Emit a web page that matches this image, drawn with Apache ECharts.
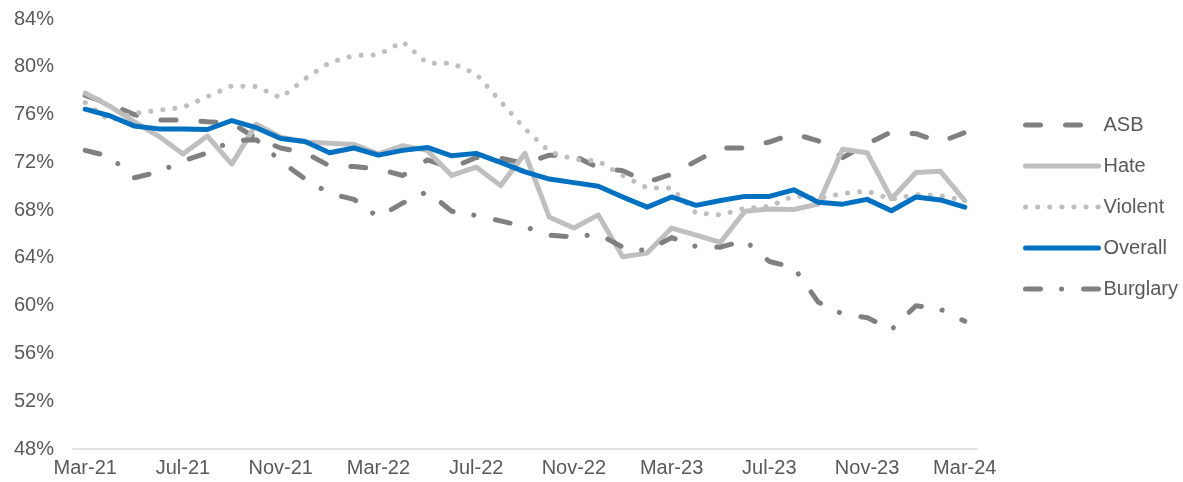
<!DOCTYPE html>
<html>
<head>
<meta charset="utf-8">
<script src="https://cdn.jsdelivr.net/npm/echarts@6/dist/echarts.min.js"></script>
<style>
  html, body { margin: 0; padding: 0; background: #fff; }
  #chart { width: 1183px; height: 482px; }
</style>
</head>
<body>
<div id="chart"></div>
<script>
const months = [
  "Mar-21", "Apr-21", "May-21", "Jun-21", "Jul-21", "Aug-21", "Sep-21", "Oct-21",
  "Nov-21", "Dec-21", "Jan-22", "Feb-22", "Mar-22", "Apr-22", "May-22", "Jun-22",
  "Jul-22", "Aug-22", "Sep-22", "Oct-22", "Nov-22", "Dec-22", "Jan-23", "Feb-23",
  "Mar-23", "Apr-23", "May-23", "Jun-23", "Jul-23", "Aug-23", "Sep-23", "Oct-23",
  "Nov-23", "Dec-23", "Jan-24", "Feb-24", "Mar-24",
];

const asb = [
  77.6, 76.9, 76.0, 75.55, 75.55, 75.4, 75.3, 74.0, 73.2, 72.8, 71.7, 71.65,
  71.45, 70.9, 72.2, 71.55, 72.4, 72.35, 71.9, 72.6, 72.55, 71.55, 71.3, 70.35,
  71.0, 72.1, 73.2, 73.2, 73.7, 74.4, 73.8, 72.4, 73.55, 74.55, 74.4, 73.7, 74.5,
];
const hate = [
  77.8, 76.7, 75.4, 74.2, 72.7, 74.2, 71.85, 75.2, 74.1, 73.7, 73.6, 73.5,
  72.7, 73.4, 73.0, 70.9, 71.6, 70.05, 72.75, 67.4, 66.5, 67.6, 64.1, 64.4,
  66.5, 65.9, 65.3, 67.9, 68.1, 68.05, 68.5, 73.1, 72.8, 68.95, 71.15, 71.25, 68.8,
];
const violent = [
  77.0, 75.5, 76.1, 76.35, 76.6, 77.5, 78.4, 78.35, 77.4, 79.0, 80.35, 80.95,
  81.0, 82.1, 80.3, 80.3, 79.4, 77.1, 74.8, 72.9, 72.25, 72.1, 70.9, 69.85,
  69.85, 67.75, 67.6, 68.15, 68.3, 69.2, 68.95, 69.4, 69.6, 68.9, 69.3, 69.2, 68.8,
];
const overall = [
  76.45, 75.9, 75.05, 74.8, 74.8, 74.75, 75.5, 74.9, 74.0, 73.75, 72.8, 73.2,
  72.6, 73.0, 73.25, 72.55, 72.75, 72.0, 71.2, 70.6, 70.3, 70.0, 69.1, 68.25,
  69.1, 68.4, 68.8, 69.15, 69.15, 69.7, 68.65, 68.5, 68.9, 67.95, 69.1, 68.85, 68.25,
];
const burglary = [
  73.0, 72.5, 70.7, 71.2, 72.1, 72.8, 73.8, 73.9, 72.1, 70.6, 69.4, 68.9,
  67.4, 68.6, 69.55, 67.9, 67.55, 67.1, 66.6, 65.9, 65.75, 66.0, 64.9, 64.6,
  65.7, 64.95, 64.9, 65.45, 63.7, 63.2, 60.3, 59.3, 59.0, 58.0, 60.0, 59.7, 58.7,
];

const yTicks = { min: 48, max: 84, step: 4 };
const font = "'Liberation Sans', Arial, sans-serif";
const labelColor = "#595959";

function line(name, data, color, type) {
  return {
    name,
    type: "line",
    data,
    symbol: "none",
    showSymbol: false,
    lineStyle: { width: 5, color, type, cap: "round", join: "round" },
    itemStyle: { color },
    emphasis: { disabled: true },
  };
}

const chart = echarts.init(document.getElementById("chart"));
chart.setOption({
  animation: false,
  grid: { left: 73, right: 206, top: 19, bottom: 33, containLabel: false },
  legend: {
    orient: "vertical",
    left: 1023,
    top: 115,
    padding: 0,
    itemWidth: 73,
    itemHeight: 20,
    itemGap: 21,
    data: ["ASB", "Hate", "Violent", "Overall", "Burglary"],
    itemStyle: { opacity: 0 },
    lineStyle: { width: 5, cap: "round" },
    textStyle: { color: labelColor, fontSize: 20, fontFamily: font },
  },
  xAxis: {
    type: "category",
    data: months,
    boundaryGap: true,
    axisLine: { lineStyle: { color: "#d9d9d9", width: 1.5 } },
    axisTick: { interval: 3, length: 5, lineStyle: { color: "#d9d9d9", width: 1.5 } },
    axisLabel: { interval: 3, color: labelColor, fontSize: 20, fontFamily: font, margin: 9 },
  },
  yAxis: {
    type: "value",
    min: yTicks.min,
    max: yTicks.max,
    interval: yTicks.step,
    axisLine: { show: false },
    axisTick: { show: false },
    splitLine: { show: false },
    axisLabel: {
      color: labelColor,
      fontSize: 20,
      fontFamily: font,
      margin: 19,
      formatter: "{value}%",
    },
  },
  series: [
    line("ASB", asb, "#808080", [15, 25]),
    line("Hate", hate, "#bfbfbf", "solid"),
    line("Violent", violent, "#bfbfbf", [0.1, 12]),
    line("Overall", overall, "#0070c0", "solid"),
    line("Burglary", burglary, "#808080", [15, 21, 0.1, 22]),
  ],
});
</script>
</body>
</html>
